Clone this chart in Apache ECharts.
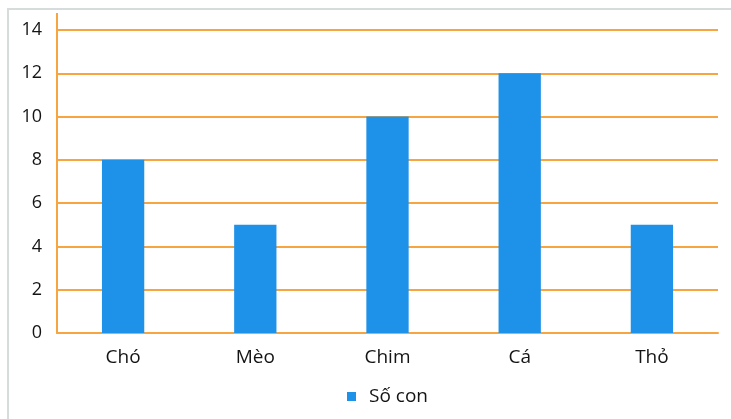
<!DOCTYPE html>
<html>
<head>
<meta charset="utf-8">
<script src="https://cdn.jsdelivr.net/npm/echarts@6/dist/echarts.min.js"></script>
<style>
html,body{margin:0;padding:0;background:#fff;}
#c{width:731px;height:419px;}
</style>
</head>
<body>
<div id="c"></div>
<script>
const categories = ['Chó', 'Mèo', 'Chim', 'Cá', 'Thỏ'];
const soCon = [8, 5, 10, 12, 5];
const seriesName = 'Số con';

const ORANGE = '#f7a540';
const BLUE = '#1e91e8';
const FONT = 'Open Sans';
const TEXT = '#141414';

const chart = echarts.init(document.getElementById('c'), null, {renderer: 'canvas'});
chart.setOption({
  animation: false,
  backgroundColor: '#fff',
  textStyle: {fontFamily: FONT},
  grid: {left: 57, right: 13, top: 30, bottom: 86, containLabel: false},
  legend: {
    bottom: 8, left: 342,
    itemWidth: 9, itemHeight: 9, itemGap: 10,
    icon: 'rect',
    textStyle: {fontFamily: FONT, fontSize: 19, color: TEXT, padding: [0, 0, 0, 8]},
    data: [seriesName]
  },
  xAxis: {
    type: 'category',
    data: categories,
    axisLine: {show: true, lineStyle: {color: ORANGE, width: 2}},
    axisTick: {show: false},
    axisLabel: {fontFamily: FONT, fontSize: 19, color: TEXT, margin: 15}
  },
  yAxis: {
    type: 'value', min: 0, max: 14, interval: 2,
    axisLine: {show: true, lineStyle: {color: ORANGE, width: 2}},
    axisTick: {show: false},
    axisLabel: {fontFamily: FONT, fontSize: 18, color: TEXT, margin: 15},
    splitLine: {show: true, lineStyle: {color: ORANGE, width: 2}}
  },
  series: [{
    name: seriesName,
    type: 'bar',
    data: soCon,
    barWidth: '32%',
    itemStyle: {color: BLUE}
  }]
});

// decorations: outer frame and y-axis line extending above the top grid line
const yTopPx = chart.convertToPixel({yAxisIndex: 0}, 14);
chart.setOption({
  graphic: [
    {type: 'rect', shape: {x: 8, y: 9, width: 760, height: 440}, style: {fill: null, stroke: '#d6dcdc', lineWidth: 2}, silent: true},
    {type: 'line', shape: {x1: 57, y1: 13, x2: 57, y2: yTopPx}, style: {stroke: ORANGE, lineWidth: 2}, silent: true}
  ]
});
</script>
</body>
</html>
